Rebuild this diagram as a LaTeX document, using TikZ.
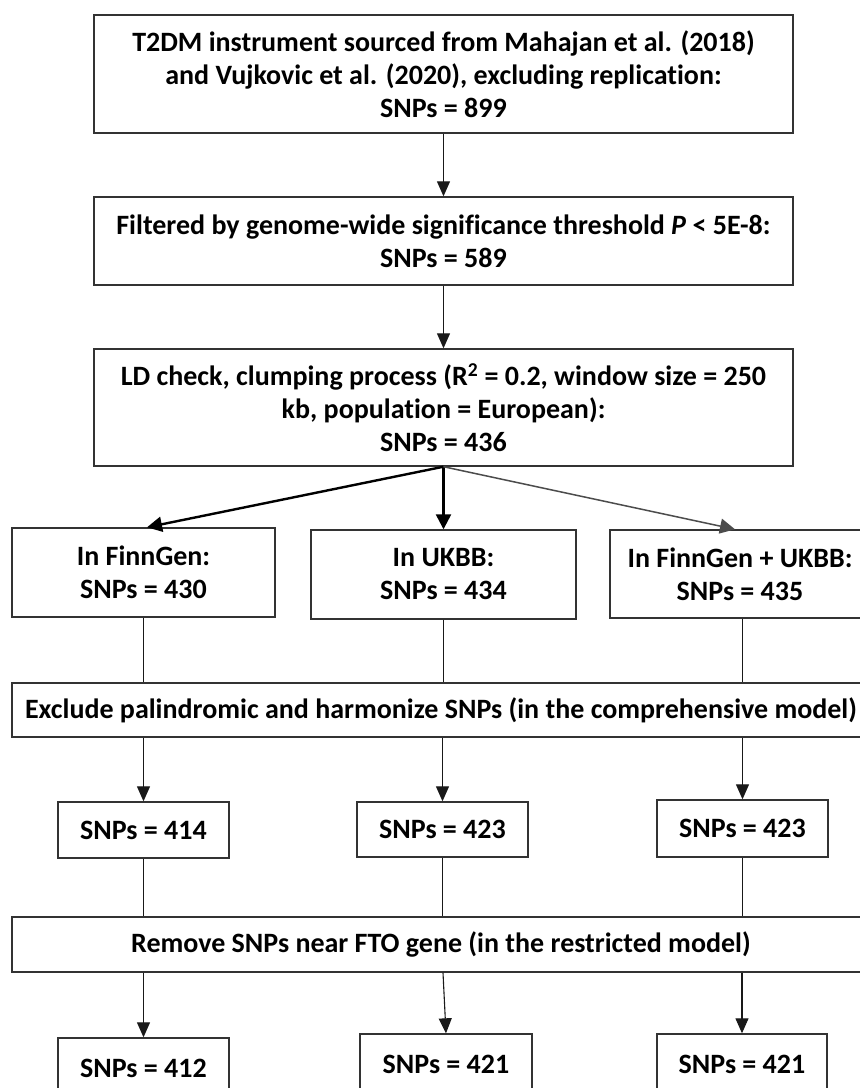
\documentclass[tikz,border=0pt]{standalone}
\usepackage{fontspec}
\setmainfont{Carlito}[Ligatures=NoCommon]
\usetikzlibrary{arrows.meta}
\begin{document}
\begin{tikzpicture}[x=1pt,y=-1pt,
  box/.style={draw=black!80,line width=1.4pt,rectangle,inner sep=0pt,align=center,
    font=\fontsize{28}{33}\selectfont\bfseries},
  ln/.style={draw=black!90,line width=1.1pt},
  arr/.style={ln,-{Triangle[width=13pt,length=15pt]}},
  thickarr/.style={draw=black,line width=2.4pt,-{Triangle[width=15pt,length=15pt]}},
  thinarr/.style={draw=black!70,line width=1.5pt,-{Triangle[width=15pt,length=15pt]}}]
\useasboundingbox (0,0) rectangle (860,1088);
\clip (0,0) rectangle (860,1088);
\fill[white] (0,0) rectangle (860,1088);
\node[box,minimum width=699pt,minimum height=118pt] (b1) at (443.5,74)
  {T2DM instrument sourced from Mahajan et al. (2018)\\and Vujkovic et al. (2020), excluding replication:\\SNPs = 899};
\node[box,minimum width=699pt,minimum height=88pt] (b2) at (443.5,241)
  {Filtered by genome-wide significance threshold \textit{P} < 5E-8:\\SNPs = 589};
\node[box,minimum width=699pt,minimum height=117pt] (b3) at (443.5,407.5)
  {LD check, clumping process (R\textsuperscript{2} = 0.2, window size = 250\\kb, population = European):\\SNPs = 436};
\node[box,minimum width=263pt,minimum height=89pt] (fg) at (143.5,572.5) {In FinnGen:\\SNPs = 430};
\node[box,minimum width=265pt,minimum height=89pt] (uk) at (443.5,574.5) {In UKBB:\\SNPs = 434};
\node[box,minimum width=260pt,minimum height=88pt] (fu) at (740,574) {In FinnGen + UKBB:\\SNPs = 435};
\node[box,minimum width=858pt,minimum height=54pt] (ex) at (441,710)
  {Exclude palindromic and harmonize SNPs (in the comprehensive model)};
\node[box,minimum width=171pt,minimum height=56pt] (s1) at (143.5,830) {SNPs = 414};
\node[box,minimum width=171pt,minimum height=55pt] (s2) at (442.5,829.5) {SNPs = 423};
\node[box,minimum width=171pt,minimum height=57pt] (s3) at (742.5,828.5) {SNPs = 423};
\node[box,minimum width=858pt,minimum height=55pt] (rm) at (441,944.5)
  {Remove SNPs near FTO gene (in the restricted model)};
\node[box,minimum width=171pt,minimum height=60pt] (t1) at (143.5,1068) {SNPs = 412};
\node[box,minimum width=172pt,minimum height=60pt] (t2) at (446,1064) {SNPs = 421};
\node[box,minimum width=170pt,minimum height=60pt] (t3) at (742,1064) {SNPs = 421};
\coordinate (rmtop) at (443,0);
\draw[arr] (b1.south) -- (b2.north);
\draw[arr] (b2.south) -- (b3.north);
\draw[thickarr] (b3.south) -- ([xshift=3.5pt]fg.north);
\draw[thickarr] (b3.south) -- (uk.north);
\draw[thinarr] (b3.south) -- ([xshift=-5pt]fu.north);
\draw[ln] (fg.south) -- (fg.south |- ex.north);
\draw[ln] (uk.south) -- (uk.south |- ex.north);
\draw[ln] ([xshift=2.5pt]fu.south) -- ([xshift=2.5pt]fu.south |- ex.north);
\draw[arr] (s1.north |- ex.south) -- (s1.north);
\draw[arr] (s2.north |- ex.south) -- (s2.north);
\draw[arr] (s3.north |- ex.south) -- (s3.north);
\draw[ln] (s1.south) -- (s1.south |- rm.north);
\draw[ln] (s2.south) -- (s2.south |- rm.north);
\draw[ln] (s3.south) -- (s3.south |- rm.north);
\draw[arr] (t1.north |- rm.south) -- (t1.north);
\draw[arr] (rmtop |- rm.south) -- (t2.north);
\draw[arr] (t3.north |- rm.south) -- (t3.north);
\end{tikzpicture}
\end{document}
